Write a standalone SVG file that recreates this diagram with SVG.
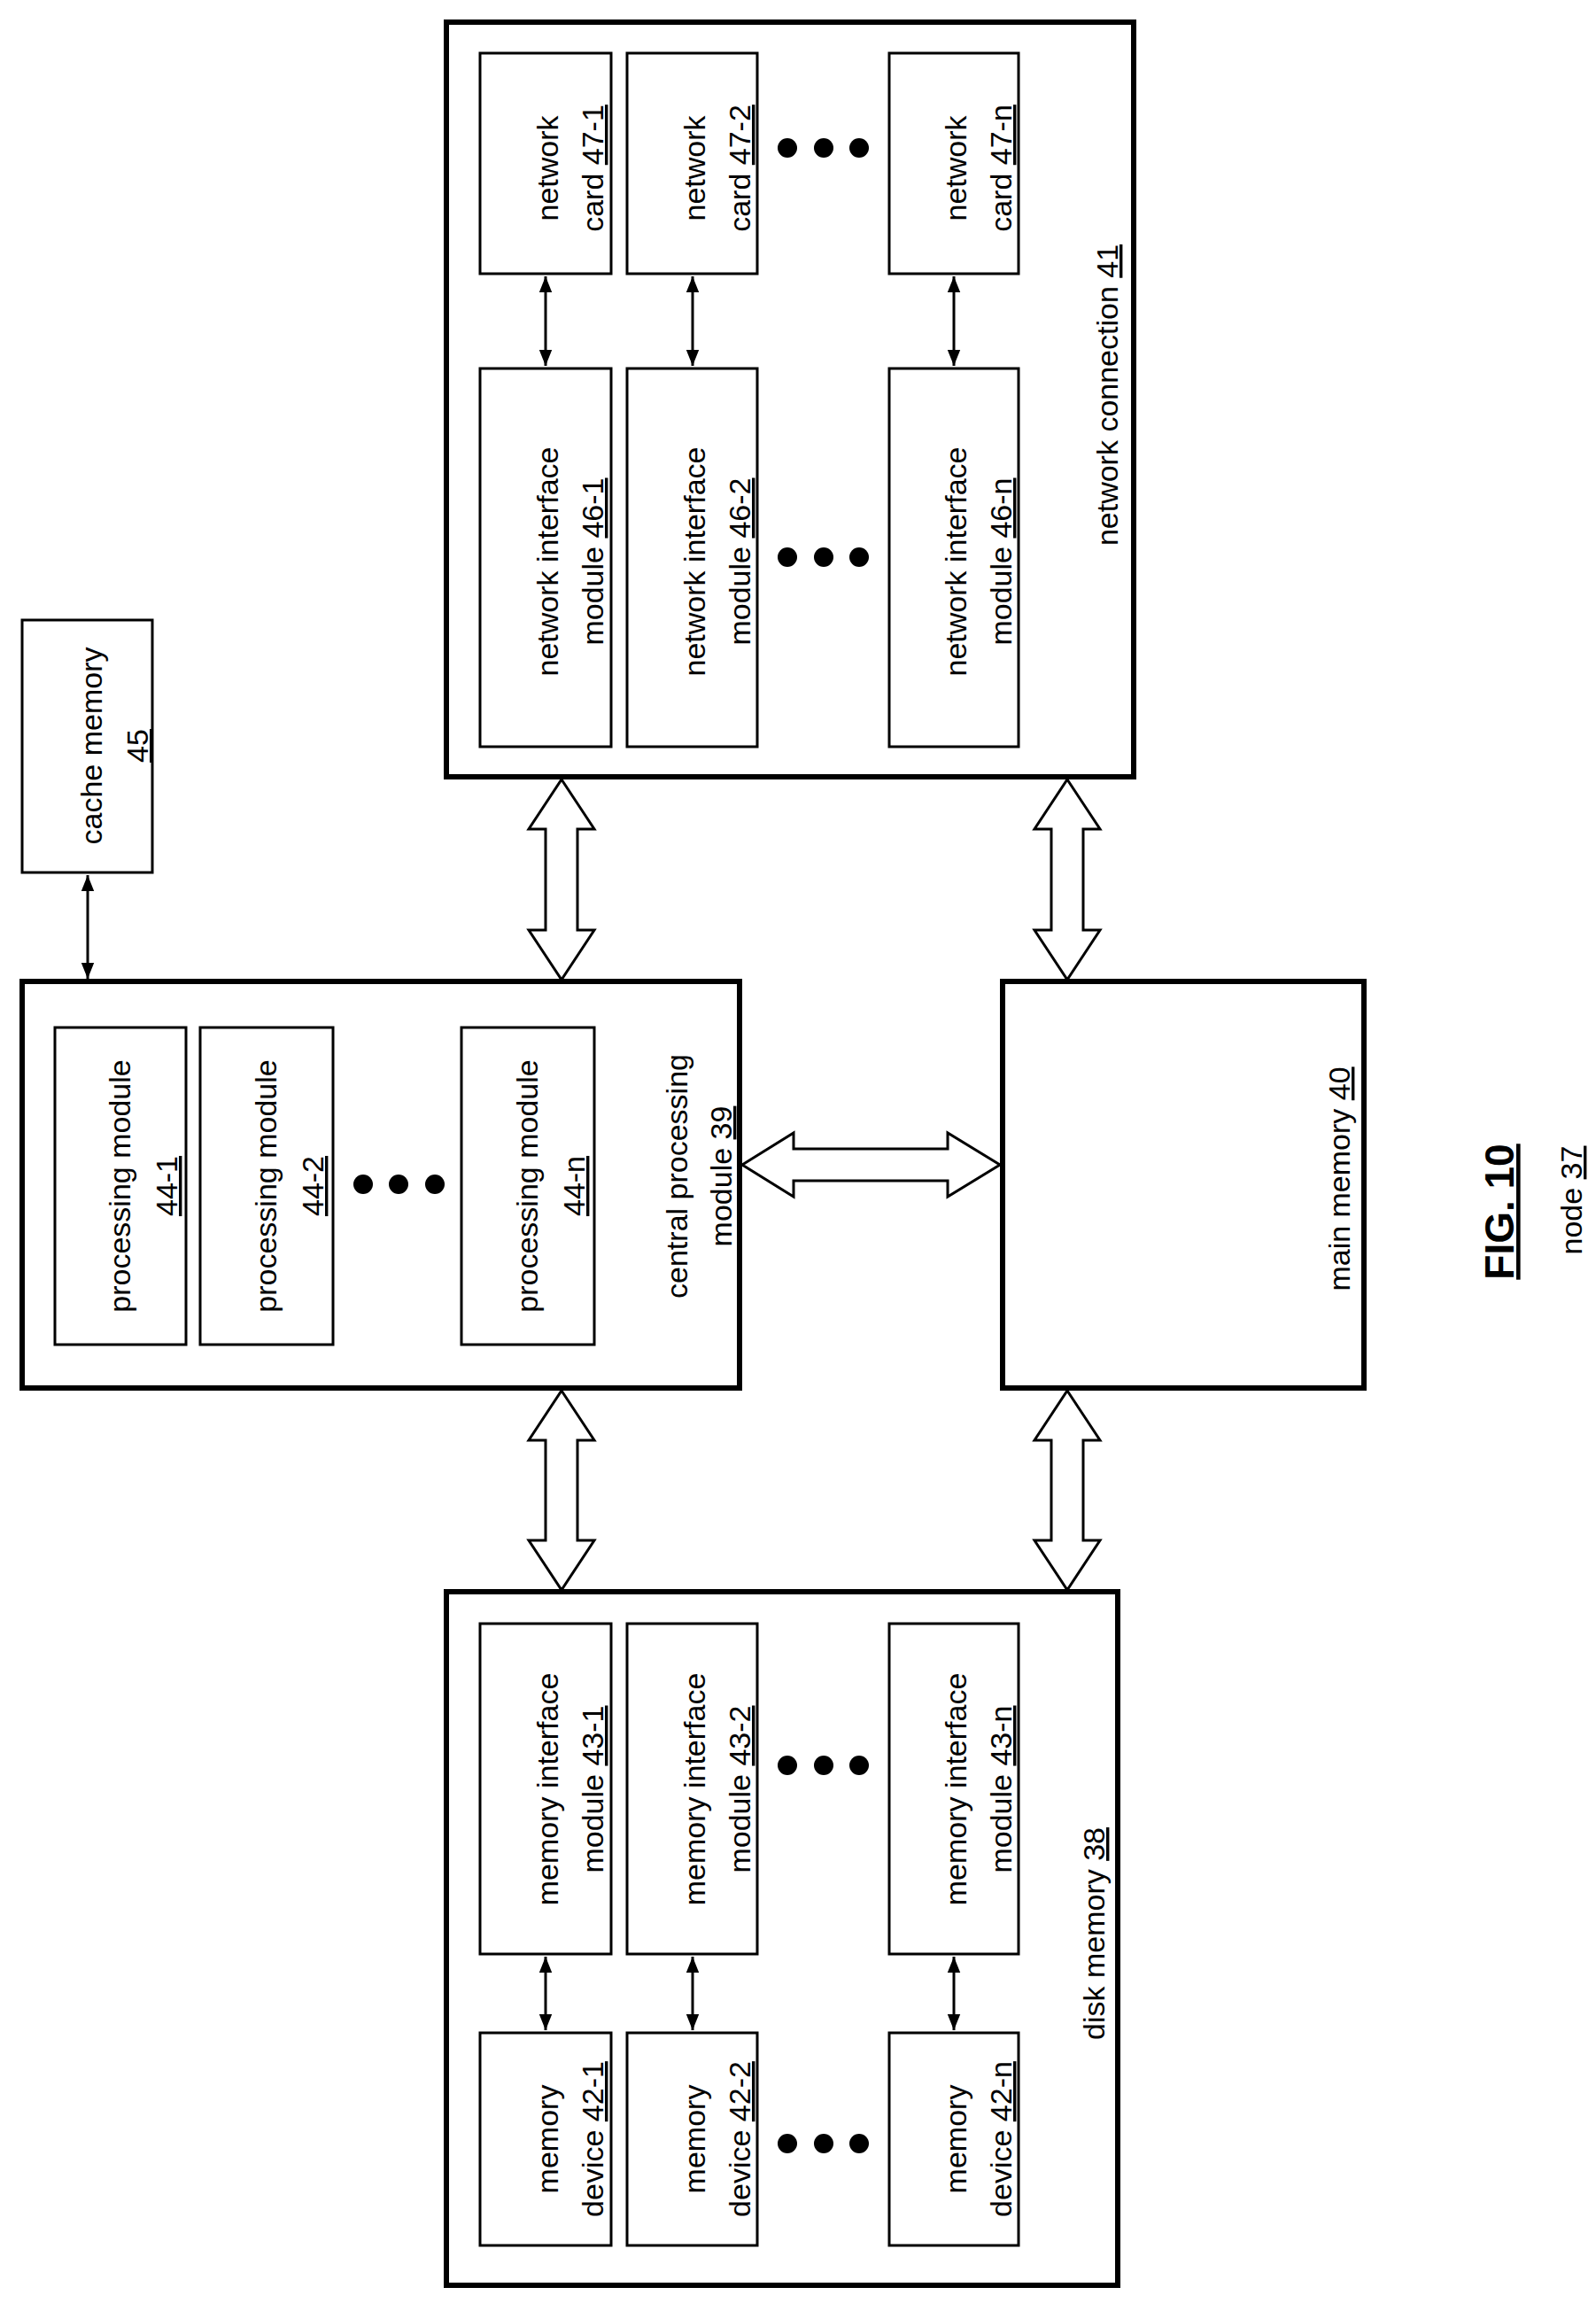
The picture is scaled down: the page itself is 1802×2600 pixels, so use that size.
<svg xmlns="http://www.w3.org/2000/svg" width="1802" height="2600" viewBox="0 0 1802 2600">
<style>
.big{fill:#fff;stroke:#000;stroke-width:6}
.box{fill:#fff;stroke:#000;stroke-width:3}
.t{font-family:"Liberation Sans",Arial,sans-serif;font-size:34px;fill:#000;text-anchor:middle}
.u{text-decoration:underline}
.c{stroke:#000;stroke-width:3;fill:none}
.h{fill:#fff;stroke:#000;stroke-width:3;stroke-linejoin:miter}
</style>
<defs>
<marker id="a" viewBox="0 0 10 10" refX="10" refY="5" markerWidth="6" markerHeight="6" orient="auto-start-reverse" markerUnits="strokeWidth"><path d="M0,1 L10,5 L0,9 z" fill="#000"/></marker>
</defs>
<rect width="1802" height="2600" fill="#fff"/>

<g id="network-connection">
<rect class="big" x="504" y="25" width="776" height="852"/>
<text class="t" transform="translate(1262,446) rotate(-90)">network connection <tspan class="u">41</tspan></text>
</g>
<g id="card-1"><rect class="box" x="542" y="60" width="148" height="249"/>
<text class="t" transform="translate(616,190) rotate(-90)"><tspan x="0" y="14">network</tspan><tspan x="0" y="65">card <tspan class="u">47-1</tspan></tspan></text></g>
<g id="card-2"><rect class="box" x="708" y="60" width="147" height="249"/>
<text class="t" transform="translate(782,190) rotate(-90)"><tspan x="0" y="14">network</tspan><tspan x="0" y="65">card <tspan class="u">47-2</tspan></tspan></text></g>
<g id="card-n"><rect class="box" x="1004" y="60" width="146" height="249"/>
<text class="t" transform="translate(1077,190) rotate(-90)"><tspan x="0" y="14">network</tspan><tspan x="0" y="65">card <tspan class="u">47-n</tspan></tspan></text></g>
<g id="nim-1"><rect class="box" x="542" y="416" width="148" height="427"/>
<text class="t" transform="translate(616,634) rotate(-90)"><tspan x="0" y="14">network interface</tspan><tspan x="0" y="65">module <tspan class="u">46-1</tspan></tspan></text></g>
<g id="nim-2"><rect class="box" x="708" y="416" width="147" height="427"/>
<text class="t" transform="translate(782,634) rotate(-90)"><tspan x="0" y="14">network interface</tspan><tspan x="0" y="65">module <tspan class="u">46-2</tspan></tspan></text></g>
<g id="nim-n"><rect class="box" x="1004" y="416" width="146" height="427"/>
<text class="t" transform="translate(1077,634) rotate(-90)"><tspan x="0" y="14">network interface</tspan><tspan x="0" y="65">module <tspan class="u">46-n</tspan></tspan></text></g>

<g id="cache-memory"><rect class="box" x="25" y="700" width="147" height="285"/>
<text class="t" transform="translate(99,842) rotate(-90)"><tspan x="0" y="16">cache memory</tspan><tspan x="0" y="68" class="u">45</tspan></text></g>

<g id="cpu">
<rect class="big" x="25" y="1108" width="810" height="459"/>
<text class="t" transform="translate(800,1328) rotate(-90)"><tspan x="0" y="-24">central processing</tspan><tspan x="0" y="26">module <tspan class="u">39</tspan></tspan></text>
</g>
<g id="pm-1"><rect class="box" x="62" y="1160" width="148" height="358"/>
<text class="t" transform="translate(136,1339) rotate(-90)"><tspan x="0" y="11">processing module</tspan><tspan x="0" y="64" class="u">44-1</tspan></text></g>
<g id="pm-2"><rect class="box" x="226" y="1160" width="150" height="358"/>
<text class="t" transform="translate(301,1339) rotate(-90)"><tspan x="0" y="11">processing module</tspan><tspan x="0" y="64" class="u">44-2</tspan></text></g>
<g id="pm-n"><rect class="box" x="521" y="1160" width="150" height="358"/>
<text class="t" transform="translate(596,1339) rotate(-90)"><tspan x="0" y="11">processing module</tspan><tspan x="0" y="64" class="u">44-n</tspan></text></g>

<g id="main-memory"><rect class="big" x="1132" y="1108" width="408" height="459"/>
<text class="t" transform="translate(1524,1331) rotate(-90)">main memory <tspan class="u">40</tspan></text></g>

<g id="disk-memory">
<rect class="big" x="504" y="1797" width="758" height="783"/>
<text class="t" transform="translate(1247,2183) rotate(-90)">disk memory <tspan class="u">38</tspan></text>
</g>
<g id="mim-1"><rect class="box" x="542" y="1833" width="148" height="373"/>
<text class="t" transform="translate(616,2020) rotate(-90)"><tspan x="0" y="14">memory interface</tspan><tspan x="0" y="65">module <tspan class="u">43-1</tspan></tspan></text></g>
<g id="mim-2"><rect class="box" x="708" y="1833" width="147" height="373"/>
<text class="t" transform="translate(782,2020) rotate(-90)"><tspan x="0" y="14">memory interface</tspan><tspan x="0" y="65">module <tspan class="u">43-2</tspan></tspan></text></g>
<g id="mim-n"><rect class="box" x="1004" y="1833" width="146" height="373"/>
<text class="t" transform="translate(1077,2020) rotate(-90)"><tspan x="0" y="14">memory interface</tspan><tspan x="0" y="65">module <tspan class="u">43-n</tspan></tspan></text></g>
<g id="md-1"><rect class="box" x="542" y="2295" width="148" height="240"/>
<text class="t" transform="translate(616,2415) rotate(-90)"><tspan x="0" y="14">memory</tspan><tspan x="0" y="65">device <tspan class="u">42-1</tspan></tspan></text></g>
<g id="md-2"><rect class="box" x="708" y="2295" width="147" height="240"/>
<text class="t" transform="translate(782,2415) rotate(-90)"><tspan x="0" y="14">memory</tspan><tspan x="0" y="65">device <tspan class="u">42-2</tspan></tspan></text></g>
<g id="md-n"><rect class="box" x="1004" y="2295" width="146" height="240"/>
<text class="t" transform="translate(1077,2415) rotate(-90)"><tspan x="0" y="14">memory</tspan><tspan x="0" y="65">device <tspan class="u">42-n</tspan></tspan></text></g>

<g id="dots" fill="#000">
<circle cx="889" cy="167" r="11"/><circle cx="930" cy="167" r="11"/><circle cx="970" cy="167" r="11"/>
<circle cx="889" cy="629" r="11"/><circle cx="930" cy="629" r="11"/><circle cx="970" cy="629" r="11"/>
<circle cx="889" cy="1993" r="11"/><circle cx="930" cy="1993" r="11"/><circle cx="970" cy="1993" r="11"/>
<circle cx="889" cy="2420" r="11"/><circle cx="930" cy="2420" r="11"/><circle cx="970" cy="2420" r="11"/>
<circle cx="410" cy="1337" r="11"/><circle cx="450" cy="1337" r="11"/><circle cx="491" cy="1337" r="11"/>
</g>

<g id="figure-label">
<text transform="translate(1709,1368) rotate(-90)" style="font-family:'Liberation Sans',Arial,sans-serif;font-size:46px;font-weight:bold;text-anchor:middle" class="u">FIG. 10</text>
<text class="t" transform="translate(1786,1355) rotate(-90)">node <tspan class="u">37</tspan></text>
</g>

<g id="connectors">
<line class="c" x1="616" y1="312" x2="616" y2="413" marker-start="url(#a)" marker-end="url(#a)"/>
<line class="c" x1="782" y1="312" x2="782" y2="413" marker-start="url(#a)" marker-end="url(#a)"/>
<line class="c" x1="1077" y1="312" x2="1077" y2="413" marker-start="url(#a)" marker-end="url(#a)"/>
<line class="c" x1="616" y1="2209" x2="616" y2="2292" marker-start="url(#a)" marker-end="url(#a)"/>
<line class="c" x1="782" y1="2209" x2="782" y2="2292" marker-start="url(#a)" marker-end="url(#a)"/>
<line class="c" x1="1077" y1="2209" x2="1077" y2="2292" marker-start="url(#a)" marker-end="url(#a)"/>
<line class="c" x1="99" y1="988" x2="99" y2="1105" marker-start="url(#a)" marker-end="url(#a)"/>
<polygon class="h" points="634,880 671,936 652,936 652,1050 671,1050 634,1106 597,1050 616,1050 616,936 597,936"/>
<polygon class="h" points="1205,880 1242,936 1223,936 1223,1050 1242,1050 1205,1106 1168,1050 1187,1050 1187,936 1168,936"/>
<polygon class="h" points="634,1570 671,1626 652,1626 652,1739 671,1739 634,1795 597,1739 616,1739 616,1626 597,1626"/>
<polygon class="h" points="1205,1570 1242,1626 1223,1626 1223,1739 1242,1739 1205,1795 1168,1739 1187,1739 1187,1626 1168,1626"/>
<polygon class="h" points="838,1315 896,1279 896,1297 1070,1297 1070,1279 1129,1315 1070,1351 1070,1333 896,1333 896,1351"/>
</g>
</svg>
